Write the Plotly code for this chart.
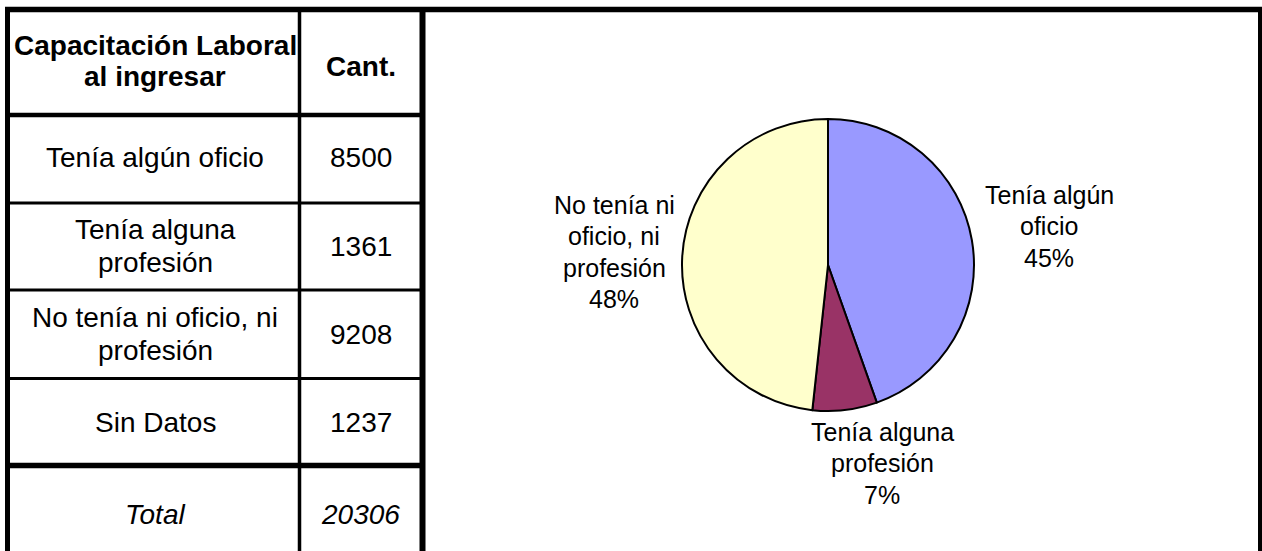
# Capacitación laboral al ingresar: tabla + gráfico de torta
import plotly.graph_objects as go

# Datos
row_labels = ["Tenía algún oficio", "Tenía alguna\nprofesión",
              "No tenía ni oficio, ni\nprofesión", "Sin Datos"]
row_counts = [8500, 1361, 9208, 1237]
total_label = "Total"
header_labels = ["Capacitación Laboral\nal ingresar", "Cant."]

pie_labels = ["Tenía algún\noficio", "Tenía alguna\nprofesión",
              "No tenía ni\noficio, ni\nprofesión"]
pie_values = row_counts[:3]
pie_colors = ["#9999FF", "#993366", "#FFFFCC"]

W, H = 1262, 551
FONT = "Liberation Sans, Arial, sans-serif"


def px(x):
    return x / W


def py(y):
    return 1 - y / H


fig = go.Figure()

# Pie, centre (828, 265), radius 146 px
cx, cy, r = 828, 265, 146
fig.add_trace(go.Pie(
    labels=[s.replace("\n", " ") for s in pie_labels],
    values=pie_values,
    sort=False,
    direction="clockwise",
    rotation=0,
    marker=dict(colors=pie_colors, line=dict(color="black", width=2)),
    textinfo="none",
    showlegend=False,
    domain=dict(x=[px(cx - r), px(cx + r)], y=[py(cy + r), py(cy - r)]),
))

annotations = []


def add_text(text, xc, yc, size, pitch, tag=None):
    lines = text.split("\n")
    n = len(lines)
    for i, ln in enumerate(lines):
        t = f"<{tag}>{ln}</{tag}>" if tag else ln
        annotations.append(dict(
            x=px(xc), y=py(yc + (i - (n - 1) / 2) * pitch),
            xref="paper", yref="paper", text=t, showarrow=False,
            xanchor="center", yanchor="middle",
            font=dict(family=FONT, size=size, color="black"),
        ))


# Table text
col1, col2 = 155, 361
add_text(header_labels[0], col1, 61, 28, 30.5, "b")
add_text(header_labels[1], col2, 67, 28, 30.5, "b")
row_centers = [158, 246, 334, 422]
for lab, val, yc in zip(row_labels, row_counts, row_centers):
    add_text(lab, col1, yc, 28, 33)
    add_text(str(val), col2, yc, 28, 33)
add_text(total_label, col1, 514, 28, 33, "i")
add_text(str(sum(row_counts)), col2, 514, 28, 33, "i")

# Pie labels
tot = sum(pie_values)
pie_label_pos = [(1049, 226), (882, 463), (614, 252)]
for lab, v, (lx, ly) in zip(pie_labels, pie_values, pie_label_pos):
    add_text(f"{lab}\n{round(v / tot * 100)}%", lx, ly, 25, 31.5)

# Grid lines / borders
shapes = []


def hline(y, x0, x1, w):
    shapes.append(dict(type="line", xref="paper", yref="paper",
                       x0=px(x0), x1=px(x1), y0=py(y), y1=py(y),
                       line=dict(color="black", width=w)))


def vline(x, y0, y1, w):
    shapes.append(dict(type="line", xref="paper", yref="paper",
                       x0=px(x), x1=px(x), y0=py(y0), y1=py(y1),
                       line=dict(color="black", width=w)))


hline(9.5, 5, W, 5.5)
vline(7.5, 7, H, 5)
vline(299.5, 12, H, 3.5)
vline(422.5, 7, H, 6)
vline(1260, 7, H, 4)
hline(115, 5, 425, 4.5)
hline(203, 5, 425, 3)
hline(290, 5, 425, 3)
hline(378.5, 5, 425, 3)
hline(465.5, 5, 425, 5.5)

fig.update_layout(
    width=W, height=H,
    margin=dict(l=0, r=0, t=0, b=0),
    paper_bgcolor="white",
    plot_bgcolor="white",
    shapes=shapes,
    annotations=annotations,
    font=dict(family=FONT),
)

# page body has an 8px default margin; drop it so the figure fills the window
fig.write_html("out.html",
               config={"displayModeBar": False},
               post_script="document.body.style.margin='0';"
                           "document.body.style.overflow='hidden';")
